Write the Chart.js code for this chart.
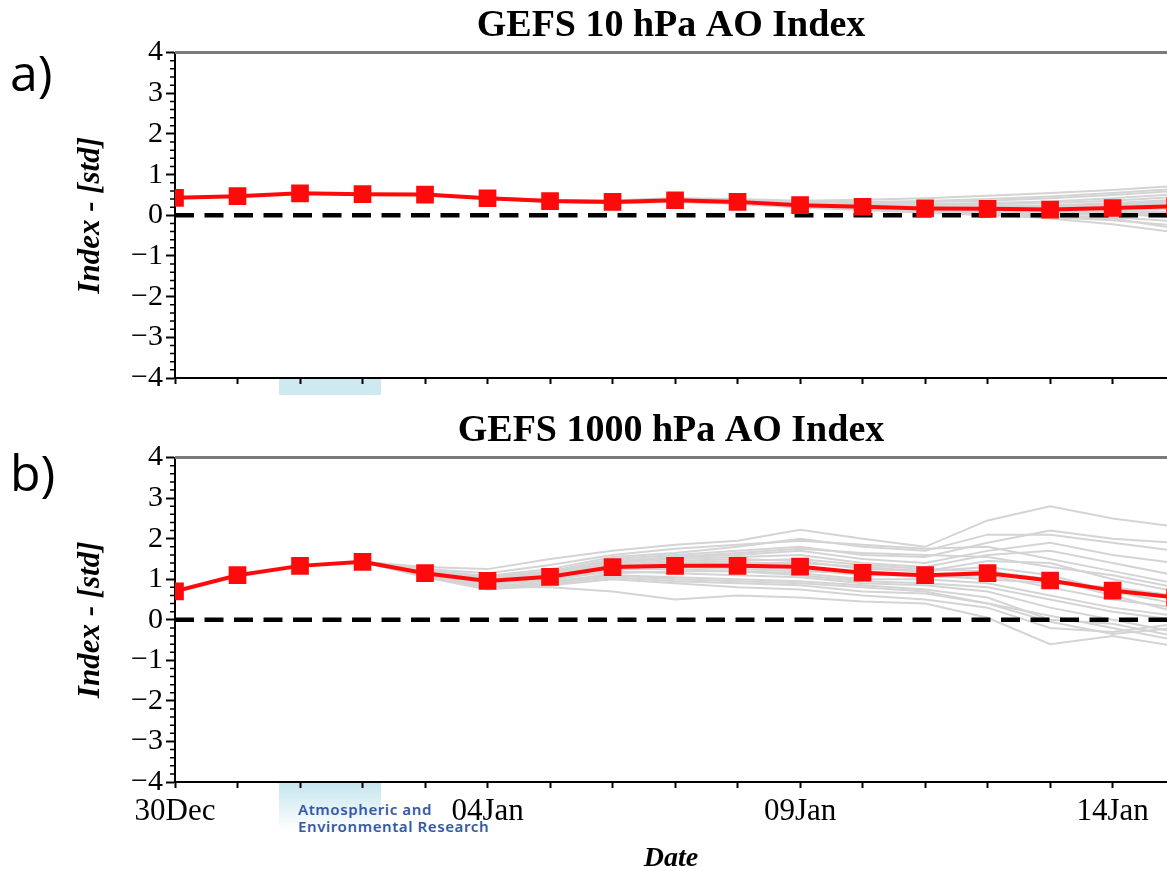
<!DOCTYPE html>
<html>
<head>
<meta charset="utf-8">
<script src="https://cdn.jsdelivr.net/npm/chart.js@4.4.1/dist/chart.umd.min.js"></script>
<style>
  body { margin: 0; background: #fff; width: 1167px; height: 871px; overflow: hidden; position: relative; }
  .panel { position: absolute; left: 0; width: 1167px; }
  #wrapA { top: 0; height: 392px; }
  #wrapB { top: 400px; height: 471px; }
  .tag { position: absolute; left: 10px; font-family: 'Open Sans', 'Noto Sans', sans-serif; font-size: 50px; line-height: 60px; color: #000; }
  .logoA { position: absolute; left: 279px; top: 379px; width: 102px; height: 16px; background: #cfe9f0; }
  .logoB { position: absolute; left: 279px; top: 783px; width: 102px; height: 48px; background: linear-gradient(#c6e5ee, #ffffff); }
  .logoText { position: absolute; left: 298px; top: 801px; font-family: 'Noto Sans', sans-serif; font-size: 15px; font-weight: 600; letter-spacing: 0.6px; color: #3559a3; line-height: 17px; white-space: nowrap; }
</style>
</head>
<body>
<div class="logoA"></div>
<div class="logoB"></div>
<div class="logoText">Atmospheric and<br>Environmental Research</div>
<div class="panel" id="wrapA"><canvas id="chartA"></canvas></div>
<div class="panel" id="wrapB"><canvas id="chartB"></canvas></div>
<div class="tag" style="top:42px">a)</div>
<div class="tag" style="top:442px">b)</div>
<script>
// dates on the x axis, one per day
const dates = ['30Dec', '31Dec', '01Jan', '02Jan', '03Jan', '04Jan', '05Jan', '06Jan', '07Jan',
               '08Jan', '09Jan', '10Jan', '11Jan', '12Jan', '13Jan', '14Jan', '15Jan'];
const labelDays = [0, 5, 10, 15];
const yTicks = [-4, -3, -2, -1, 0, 1, 2, 3, 4];
const forecastStart = 3; // members begin on 02Jan

// 10 hPa AO: analysis/ensemble mean (red)
const ao10 = [0.43, 0.47, 0.54, 0.52, 0.51, 0.42, 0.35, 0.33, 0.37, 0.33, 0.25, 0.21, 0.17, 0.16, 0.14, 0.18, 0.22];
// 10 hPa members, days 3..16
const ens10 = [
    [0.52, 0.52, 0.44, 0.38, 0.37, 0.42, 0.40, 0.36, 0.38, 0.42, 0.48, 0.55, 0.62, 0.72],
    [0.52, 0.50, 0.41, 0.34, 0.31, 0.34, 0.30, 0.22, 0.16, 0.10, 0.02, -0.08, -0.22, -0.42],
    [0.52, 0.51, 0.43, 0.37, 0.35, 0.40, 0.37, 0.31, 0.28, 0.26, 0.27, 0.30, 0.36, 0.45],
    [0.52, 0.50, 0.42, 0.35, 0.32, 0.36, 0.31, 0.22, 0.17, 0.12, 0.08, 0.04, 0.02, 0.00],
    [0.52, 0.51, 0.42, 0.36, 0.34, 0.39, 0.36, 0.29, 0.26, 0.22, 0.22, 0.24, 0.30, 0.38],
    [0.52, 0.51, 0.41, 0.34, 0.32, 0.35, 0.32, 0.24, 0.20, 0.15, 0.13, 0.10, 0.12, 0.15],
    [0.52, 0.52, 0.43, 0.36, 0.34, 0.40, 0.38, 0.33, 0.32, 0.33, 0.36, 0.42, 0.50, 0.60],
    [0.52, 0.50, 0.41, 0.33, 0.30, 0.33, 0.28, 0.19, 0.13, 0.06, 0.00, -0.05, -0.12, -0.25],
    [0.52, 0.51, 0.42, 0.35, 0.33, 0.37, 0.33, 0.26, 0.22, 0.18, 0.17, 0.16, 0.20, 0.25],
    [0.52, 0.51, 0.43, 0.36, 0.34, 0.38, 0.35, 0.28, 0.25, 0.20, 0.20, 0.18, 0.24, 0.30],
    [0.52, 0.50, 0.42, 0.35, 0.32, 0.36, 0.31, 0.23, 0.19, 0.14, 0.10, 0.06, 0.05, 0.05],
    [0.52, 0.51, 0.43, 0.37, 0.35, 0.41, 0.39, 0.34, 0.33, 0.35, 0.40, 0.46, 0.55, 0.65],
    [0.52, 0.50, 0.41, 0.34, 0.31, 0.34, 0.29, 0.21, 0.15, 0.10, 0.05, 0.00, -0.05, -0.15],
    [0.52, 0.51, 0.42, 0.35, 0.33, 0.37, 0.33, 0.25, 0.22, 0.18, 0.15, 0.12, 0.15, 0.20],
    [0.52, 0.51, 0.42, 0.36, 0.34, 0.38, 0.35, 0.27, 0.24, 0.21, 0.21, 0.22, 0.28, 0.34],
    [0.52, 0.50, 0.41, 0.34, 0.32, 0.35, 0.30, 0.22, 0.18, 0.13, 0.09, 0.05, 0.04, -0.05],
    [0.52, 0.51, 0.43, 0.37, 0.35, 0.39, 0.37, 0.30, 0.28, 0.27, 0.30, 0.34, 0.42, 0.52],
    [0.52, 0.51, 0.42, 0.35, 0.33, 0.37, 0.32, 0.25, 0.20, 0.16, 0.12, 0.08, 0.08, 0.08],
    [0.52, 0.50, 0.41, 0.33, 0.31, 0.34, 0.29, 0.20, 0.14, 0.08, 0.03, -0.02, -0.08, -0.32],
    [0.52, 0.51, 0.42, 0.36, 0.33, 0.38, 0.34, 0.27, 0.23, 0.20, 0.19, 0.20, 0.25, 0.28]
];

// 1000 hPa AO: analysis/ensemble mean (red)
const ao1000 = [0.70, 1.10, 1.33, 1.43, 1.15, 0.96, 1.06, 1.30, 1.33, 1.33, 1.31, 1.16, 1.10, 1.15, 0.97, 0.72, 0.55];
// 1000 hPa members, days 3..16
const ens1000 = [
    [1.43, 1.30, 1.25, 1.50, 1.70, 1.85, 1.95, 2.22, 2.00, 1.80, 2.45, 2.80, 2.50, 2.30],
    [1.43, 1.10, 0.80, 0.80, 0.70, 0.50, 0.60, 0.55, 0.45, 0.40, 0.05, -0.60, -0.40, -0.65],
    [1.43, 1.20, 1.05, 1.20, 1.50, 1.60, 1.70, 1.80, 1.60, 1.55, 1.90, 2.20, 2.00, 1.90],
    [1.43, 1.12, 0.92, 0.95, 1.10, 1.00, 0.95, 0.90, 0.80, 0.70, 0.40, 0.10, -0.20, -0.50],
    [1.43, 1.18, 1.00, 1.10, 1.40, 1.50, 1.55, 1.60, 1.40, 1.30, 1.60, 1.70, 1.40, 1.10],
    [1.43, 1.08, 0.85, 0.90, 1.15, 1.20, 1.20, 1.10, 0.95, 0.90, 0.80, 0.50, 0.20, 0.00],
    [1.43, 1.22, 1.08, 1.25, 1.55, 1.65, 1.80, 2.00, 1.80, 1.70, 2.10, 2.10, 1.90, 1.70],
    [1.43, 1.05, 0.75, 0.85, 1.00, 0.90, 0.80, 0.75, 0.60, 0.50, 0.30, -0.20, -0.30, -0.10],
    [1.43, 1.15, 0.95, 1.05, 1.30, 1.35, 1.40, 1.40, 1.30, 1.20, 1.30, 1.10, 0.70, 0.40],
    [1.43, 1.14, 0.98, 1.08, 1.25, 1.30, 1.25, 1.20, 1.15, 1.05, 1.10, 0.80, 0.50, 0.30],
    [1.43, 1.25, 1.15, 1.35, 1.60, 1.75, 1.85, 1.95, 1.85, 1.75, 1.80, 1.50, 1.20, 0.90],
    [1.43, 1.10, 0.88, 0.98, 1.20, 1.15, 1.10, 1.05, 0.90, 0.85, 0.70, 0.30, 0.00, -0.30],
    [1.43, 1.16, 0.96, 1.05, 1.35, 1.45, 1.50, 1.45, 1.25, 1.20, 1.45, 1.40, 1.00, 0.70],
    [1.43, 1.12, 0.90, 1.00, 1.25, 1.25, 1.20, 1.15, 1.00, 1.00, 0.90, 0.60, 0.30, 0.10],
    [1.43, 1.20, 1.02, 1.15, 1.40, 1.55, 1.60, 1.70, 1.50, 1.40, 1.70, 1.90, 1.60, 1.40],
    [1.43, 1.08, 0.82, 0.92, 1.10, 1.05, 1.00, 0.95, 0.85, 0.75, 0.55, 0.00, -0.10, -0.40],
    [1.43, 1.18, 1.00, 1.12, 1.35, 1.40, 1.45, 1.50, 1.35, 1.25, 1.20, 1.00, 0.60, 0.20],
    [1.43, 1.14, 0.94, 1.02, 1.28, 1.30, 1.30, 1.25, 1.10, 1.10, 1.00, 0.90, 0.80, 0.60],
    [1.43, 1.22, 1.05, 1.18, 1.45, 1.55, 1.65, 1.75, 1.65, 1.60, 1.55, 1.30, 1.10, 0.80],
    [1.43, 1.06, 0.78, 0.88, 1.05, 0.95, 0.90, 0.85, 0.70, 0.65, 0.40, -0.05, -0.35, -0.20]
];

const SERIF = "'Liberation Serif', 'Times New Roman', serif";

// minor y ticks + grey top frame line
const axisExtras = {
    id: 'axisExtras',
    afterDraw(chart) {
        const { ctx, chartArea: a, scales: { y } } = chart;
        ctx.save();
        ctx.strokeStyle = '#000';
        ctx.lineWidth = 1.5;
        ctx.beginPath();
        for (let t = -40; t <= 40; t += 2) {
            if (t % 10 === 0) continue;
            const py = y.getPixelForValue(t / 10);
            ctx.moveTo(a.left - 5, py);
            ctx.lineTo(a.left, py);
        }
        ctx.stroke();
        ctx.strokeStyle = '#7a7a7a';
        ctx.lineWidth = 3;
        ctx.beginPath();
        ctx.moveTo(a.left, a.top);
        ctx.lineTo(a.right, a.top);
        ctx.stroke();
        ctx.restore();
    }
};

function makePanel(id, title, mean, members, showDates, padTop) {
    const datasets = members.map(m => ({
        data: m.map((v, i) => ({ x: i + forecastStart, y: v })),
        borderColor: '#d4d4d4',
        borderWidth: 2,
        pointRadius: 0,
        order: 3,
        clip: 0
    }));
    datasets.push({
        data: [{ x: 0, y: 0 }, { x: dates.length - 1, y: 0 }],
        borderColor: '#000',
        borderWidth: 4.5,
        borderDash: [19, 10.5],
        pointRadius: 0,
        order: 2,
        clip: 0
    });
    datasets.push({
        data: mean.map((v, i) => ({ x: i, y: v })),
        borderColor: '#ff0a0a',
        backgroundColor: '#ff0a0a',
        borderWidth: 4,
        pointStyle: 'rect',
        pointRadius: 12.5,
        pointBorderWidth: 0,
        order: 1,
        clip: 0
    });

    return new Chart(document.getElementById(id), {
        type: 'line',
        data: { datasets },
        plugins: [axisExtras],
        options: {
            responsive: true,
            maintainAspectRatio: false,
            animation: false,
            events: [],
            layout: { autoPadding: false, padding: { left: 72, right: 0, top: padTop, bottom: showDates ? 0 : 4 } },
            elements: { line: { tension: 0 } },
            plugins: {
                legend: { display: false },
                tooltip: { enabled: false },
                title: {
                    display: true,
                    text: title,
                    fullSize: false,
                    color: '#000',
                    font: { family: SERIF, size: 38, weight: 'bold', lineHeight: 1.2 },
                    padding: { top: 3, bottom: 4 }
                }
            },
            scales: {
                x: {
                    type: 'linear',
                    min: 0,
                    max: 15.87,
                    afterFit(scale) {
                        scale.height = showDates ? 89 : 10;
                        scale.paddingLeft = 0;
                        scale.paddingRight = 0;
                    },
                    border: { color: '#000', width: 2 },
                    grid: { drawOnChartArea: false, tickLength: 6, tickColor: '#000', tickWidth: 2 },
                    ticks: {
                        stepSize: 1,
                        autoSkip: false,
                        includeBounds: false,
                        maxRotation: 0,
                        padding: 5,
                        color: '#000',
                        font: { family: SERIF, size: 31 },
                        callback: v => (showDates && labelDays.includes(v) ? dates[v] : '')
                    },
                    title: {
                        display: showDates,
                        text: 'Date',
                        color: '#000',
                        padding: 0,
                        font: { family: SERIF, size: 28, weight: 'bold', style: 'italic', lineHeight: 0.9 }
                    }
                },
                y: {
                    min: yTicks[0],
                    max: yTicks[yTicks.length - 1],
                    afterFit(scale) {
                        scale.width = 103;
                        scale.paddingTop = 0;
                        scale.paddingBottom = 0;
                    },
                    border: { color: '#000', width: 2 },
                    grid: { drawOnChartArea: false, tickLength: 9, tickColor: '#000', tickWidth: 2 },
                    ticks: {
                        stepSize: 1,
                        padding: 3,
                        color: '#000',
                        font: { family: SERIF, size: 30 },
                        callback: v => (v < 0 ? '\u2212' + Math.abs(v) : String(v))
                    },
                    title: {
                        display: true,
                        text: 'Index - [std]',
                        color: '#000',
                        padding: 0,
                        font: { family: SERIF, size: 31, weight: 'bold', style: 'italic', lineHeight: 1.2 }
                    }
                }
            }
        }
    });
}

makePanel('chartA', 'GEFS 10 hPa AO Index', ao10, ens10, false, 0);
makePanel('chartB', 'GEFS 1000 hPa AO Index', ao1000, ens1000, true, 5);
</script>
</body>
</html>
